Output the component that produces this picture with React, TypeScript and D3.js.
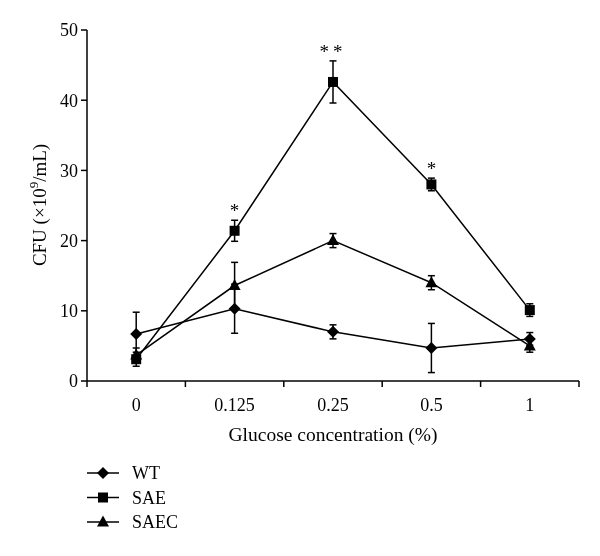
import React from "react";
import * as d3 from "d3";

const categories = ["0", "0.125", "0.25", "0.5", "1"];
const wtValues = [6.7, 10.3, 7.0, 4.7, 6.0];
const wtErrors = [3.1, 3.5, 1.0, 3.5, 0.9];
const saeValues = [3.1, 21.4, 42.6, 28.0, 10.1];
const saeErrors = [1.0, 1.5, 3.0, 0.9, 0.9];
const saecValues = [3.7, 13.6, 20.0, 14.0, 5.0];
const saecErrors = [1.0, 3.3, 1.0, 1.0, 0.9];
const saeStars = ["", "*", "**", "*", ""];
const yTicks = [0, 10, 20, 30, 40, 50];
const seriesNames = ["WT", "SAE", "SAEC"];

const FONT = "'Liberation Serif', 'DejaVu Serif', serif";

function Marker({ kind, x, y }: { kind: string; x: number; y: number }) {
  if (kind === "WT") {
    const r = 6;
    return <path d={`M${x},${y - r}L${x + r},${y}L${x},${y + r}L${x - r},${y}Z`} fill="#000" />;
  }
  if (kind === "SAE") {
    const s = 5;
    return <rect x={x - s} y={y - s} width={2 * s} height={2 * s} fill="#000" />;
  }
  const h = 6;
  return <path d={`M${x},${y - h - 0.5}L${x + 6},${y + h - 1.5}L${x - 6},${y + h - 1.5}Z`} fill="#000" />;
}

export default function App() {
  const W = 600, H = 556;
  const left = 87, right = 579, top = 30, bottom = 381;
  const x = d3.scaleBand<string>().domain(categories).range([left, right]);
  const y = d3.scaleLinear().domain([0, 50]).range([bottom, top]);
  const cx = (c: string) => (x(c) as number) + x.bandwidth() / 2;

  const series = [
    { name: "WT", values: wtValues, errors: wtErrors },
    { name: "SAE", values: saeValues, errors: saeErrors },
    { name: "SAEC", values: saecValues, errors: saecErrors },
  ];
  const line = d3.line<number>().x((_, i) => cx(categories[i])).y((v) => y(v));
  const tickX = [...categories.map((c) => x(c) as number), right];

  return (
    <svg width={W} height={H} style={{ position: "absolute", left: 0, top: 0, background: "#fff" }} fontFamily={FONT}>
      <rect width={W} height={H} fill="#fff" />
      <g opacity={0.999} fill="#000">
        {/* y axis */}
        <line x1={left} x2={left} y1={top} y2={bottom} stroke="#000" strokeWidth={1.5} />
        {yTicks.map((t) => (
          <g key={t}>
            <line x1={left - 6} x2={left} y1={y(t)} y2={y(t)} stroke="#000" strokeWidth={1.5} />
            <text x={left - 9} y={y(t)} dy="0.35em" textAnchor="end" fontSize={18}>{t}</text>
          </g>
        ))}
        {/* x axis */}
        <line x1={left} x2={right} y1={bottom} y2={bottom} stroke="#000" strokeWidth={1.5} />
        {tickX.map((tx, i) => (
          <line key={i} x1={tx} x2={tx} y1={bottom} y2={bottom + 6} stroke="#000" strokeWidth={1.5} />
        ))}
        {categories.map((c) => (
          <text key={c} x={cx(c)} y={405} dy="0.35em" textAnchor="middle" fontSize={18}>{c}</text>
        ))}
        <text x={(left + right) / 2} y={441} textAnchor="middle" fontSize={19.5}>Glucose concentration (%)</text>
        <text transform={`translate(46,205) rotate(-90)`} textAnchor="middle" fontSize={19}>
          CFU (×10<tspan dy="-8" fontSize={13}>9</tspan><tspan dy="8">/mL)</tspan>
        </text>

        {series.map((s) => (
          <g key={s.name}>
            <path d={line(s.values) || ""} fill="none" stroke="#000" strokeWidth={1.5} />
            {s.values.map((v, i) => {
              const px = cx(categories[i]);
              const e = s.errors[i];
              return (
                <g key={i}>
                  <line x1={px} x2={px} y1={y(v + e)} y2={y(v - e)} stroke="#000" strokeWidth={1.5} />
                  <line x1={px - 3.5} x2={px + 3.5} y1={y(v + e)} y2={y(v + e)} stroke="#000" strokeWidth={1.5} />
                  <line x1={px - 3.5} x2={px + 3.5} y1={y(v - e)} y2={y(v - e)} stroke="#000" strokeWidth={1.5} />
                </g>
              );
            })}
          </g>
        ))}
        {series.map((s) =>
          s.values.map((v, i) => <Marker key={s.name + i} kind={s.name} x={cx(categories[i])} y={y(v)} />)
        )}
        {saeStars.map((st, i) =>
          st ? (
            <text key={i} x={cx(categories[i])} y={y(saeValues[i] + saeErrors[i]) - 3} textAnchor="middle" fontSize={19} letterSpacing={st.length > 1 ? 4 : 0}>
              {st}
            </text>
          ) : null
        )}

        {/* legend */}
        {seriesNames.map((n, i) => {
          const ly = 473 + i * 24.5;
          return (
            <g key={n}>
              <line x1={87} x2={119} y1={ly} y2={ly} stroke="#000" strokeWidth={1.5} />
              <Marker kind={n} x={103} y={ly} />
              <text x={132} y={ly} dy="0.35em" fontSize={18}>{n}</text>
            </g>
          );
        })}
      </g>
    </svg>
  );
}
